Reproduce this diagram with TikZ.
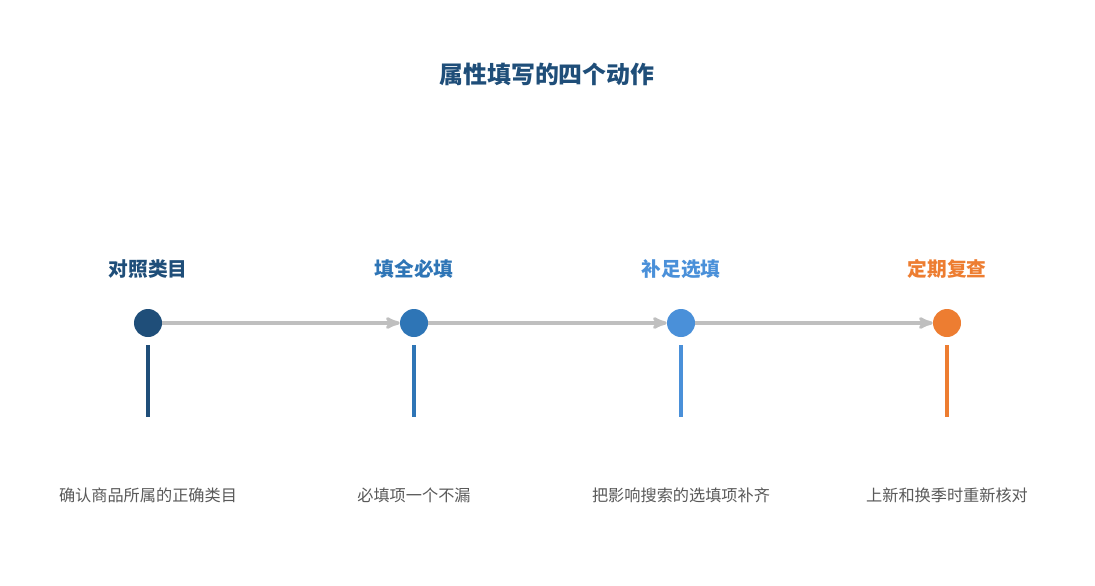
\documentclass[tikz,border=0pt]{standalone}
\usepackage{fontspec}
\setmainfont{Noto Sans CJK SC}
\usetikzlibrary{arrows,positioning}
\definecolor{cA}{HTML}{1F4E79}
\definecolor{cB}{HTML}{2E75B6}
\definecolor{cC}{HTML}{4A90D9}
\definecolor{cD}{HTML}{ED7D31}
\definecolor{link}{HTML}{BFBFBF}
\definecolor{txt}{HTML}{595959}

\begin{document}
\begin{tikzpicture}[x=0.025cm,y=-0.025cm,>=stealth',
    dot/.style={circle,fill=#1,minimum size=0.7cm,inner sep=0pt},
    head/.style={text=#1,font=\fontsize{14}{16}\selectfont\bfseries},
    desc/.style={text=txt,font=\fontsize{11.5}{13}\selectfont},
    stem/.style={draw=#1,line width=2.8pt}]
    \useasboundingbox (0,0) rectangle (1095,585);
    \node[text=cA,font=\fontsize{17}{20}\selectfont\bfseries] (title) at (547,74) {属性填写的四个动作};

    \node[dot=cA] (d1) at (148,323) {};
    \node[dot=cB] (d2) at (414,323) {};
    \node[dot=cC] (d3) at (681,323) {};
    \node[dot=cD] (d4) at (947,323) {};

    \node[head=cA] (h1) at (148,269) {对照类目};
    \node[head=cB] (h2) at (414,269) {填全必填};
    \node[head=cC] (h3) at (681,269) {补足选填};
    \node[head=cD] (h4) at (947,269) {定期复查};

    \node[desc] (t1) at (148,495) {确认商品所属的正确类目};
    \node[desc] (t2) at (414,495) {必填项一个不漏};
    \node[desc] (t3) at (681,495) {把影响搜索的选填项补齐};
    \node[desc] (t4) at (947,495) {上新和换季时重新核对};

    \coordinate (s1) at (148,345); \coordinate (e1) at (148,417);
    \coordinate (s2) at (414,345); \coordinate (e2) at (414,417);
    \coordinate (s3) at (681,345); \coordinate (e3) at (681,417);
    \coordinate (s4) at (947,345); \coordinate (e4) at (947,417);
    \draw[stem=cA] (s1) -- (e1);
    \draw[stem=cB] (s2) -- (e2);
    \draw[stem=cC] (s3) -- (e3);
    \draw[stem=cD] (s4) -- (e4);

    \path[->,draw=link,line width=2.2pt]
    (d1) edge (d2)
    (d2) edge (d3)
    (d3) edge (d4);
\end{tikzpicture}
\end{document}
